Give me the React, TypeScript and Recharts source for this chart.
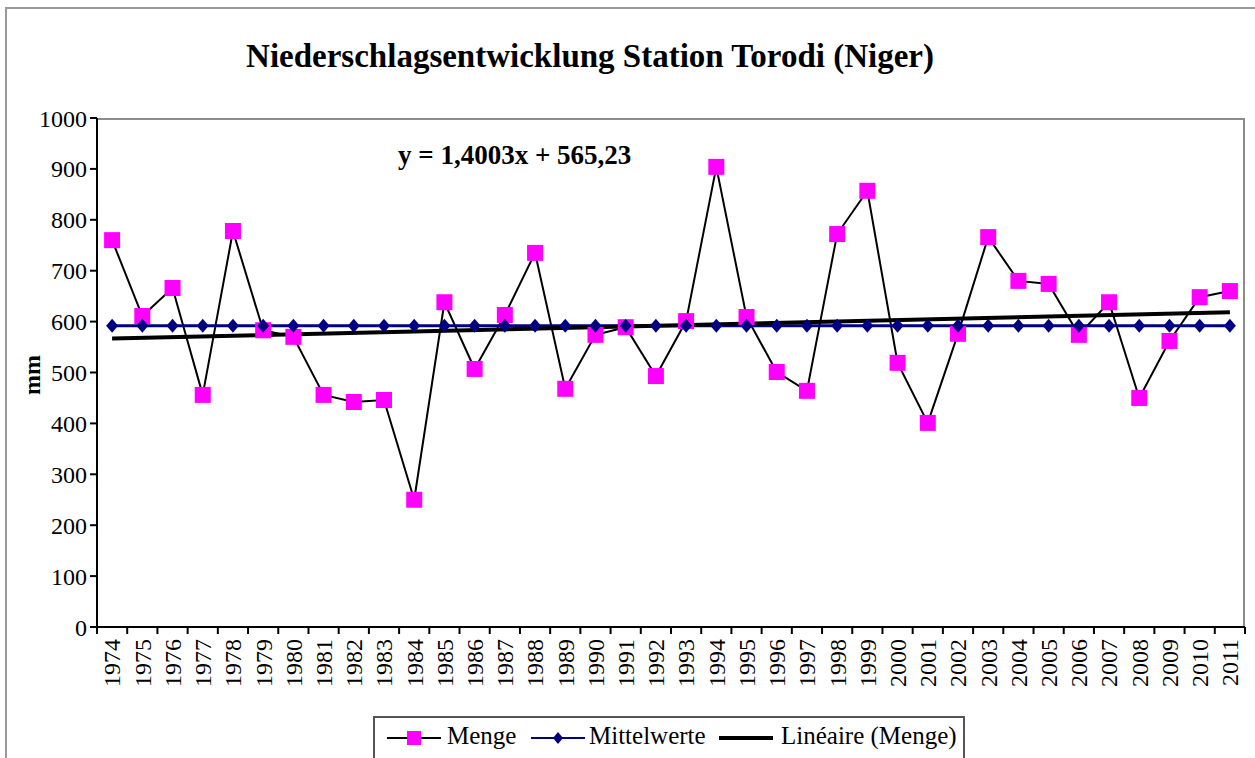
import React from "react"
import { LineChart, Line, XAxis, YAxis } from "recharts"

const years = [
    "1974", "1975", "1976", "1977", "1978", "1979", "1980", "1981", "1982", "1983",
    "1984", "1985", "1986", "1987", "1988", "1989", "1990", "1991", "1992", "1993",
    "1994", "1995", "1996", "1997", "1998", "1999", "2000", "2001", "2002", "2003",
    "2004", "2005", "2006", "2007", "2008", "2009", "2010", "2011",
]

// Niederschlag in mm
const menge = [
    760, 611, 666, 456, 778, 583, 570, 456, 442, 446,
    250, 638, 507, 613, 735, 468, 574, 589, 493, 601,
    904, 609, 501, 464, 772, 857, 519, 401, 576, 766,
    680, 674, 574, 638, 450, 562, 648, 660,
]

const mittelwerte = [
    592, 592, 592, 592, 592, 592, 592, 592, 592, 592,
    592, 592, 592, 592, 592, 592, 592, 592, 592, 592,
    592, 592, 592, 592, 592, 592, 592, 592, 592, 592,
    592, 592, 592, 592, 592, 592, 592, 592,
]

// trend line end points (y = 1,4003x + 565,23 at x = 1 and x = 38)
const trendStart = 566.6
const trendEnd = 618.4

const yTicks = [0, 100, 200, 300, 400, 500, 600, 700, 800, 900, 1000]

const data = years.map((year, i) => ({
    year,
    menge: menge[i],
    mittel: mittelwerte[i],
    trend: i === 0 ? trendStart : i === years.length - 1 ? trendEnd : null,
}))

const FONT = '"Liberation Serif", "Times New Roman", serif'
const PLOT_LEFT = 97
const PLOT_RIGHT = 1245
const PLOT_TOP = 118
const PLOT_BOTTOM = 627
const BAND = (PLOT_RIGHT - PLOT_LEFT) / years.length

function SquareDot(props: any) {
    const { cx, cy, index } = props
    if (cx == null || cy == null) return <g key={`sq-${index}`} />
    return <rect key={`sq-${index}`} x={cx - 8} y={cy - 8} width={16} height={16} fill="#ff00ff" />
}

function DiamondDot(props: any) {
    const { cx, cy, index } = props
    if (cx == null || cy == null) return <g key={`dm-${index}`} />
    return (
        <polygon
            key={`dm-${index}`}
            points={`${cx},${cy - 7} ${cx + 6},${cy} ${cx},${cy + 7} ${cx - 6},${cy}`}
            fill="#000080"
        />
    )
}

function YearTick(props: any) {
    const { x, y, payload, index } = props
    const last = index === years.length - 1
    return (
        <g>
            <line x1={x - BAND / 2} y1={y} x2={x - BAND / 2} y2={y + 7} stroke="#000" strokeWidth={2} />
            {last && <line x1={x + BAND / 2} y1={y} x2={x + BAND / 2} y2={y + 7} stroke="#000" strokeWidth={2} />}
            <text
                x={x}
                y={y + 12}
                transform={`rotate(-90, ${x}, ${y + 12})`}
                textAnchor="end"
                dy="0.35em"
                fontSize={24}
                fontFamily={FONT}
                fill="#000"
            >
                {payload.value}
            </text>
        </g>
    )
}

function LegendIcon({ kind, left }: { kind: string; left: number }) {
    return (
        <svg width={56} height={20} style={{ position: "absolute", left, top: 10 }}>
            {kind === "menge" && (
                <>
                    <line x1={1} y1={10} x2={55} y2={10} stroke="#000" strokeWidth={2} />
                    <rect x={21} y={3} width={14} height={14} fill="#ff00ff" />
                </>
            )}
            {kind === "mittel" && (
                <>
                    <line x1={1} y1={10} x2={55} y2={10} stroke="#000080" strokeWidth={2} />
                    <polygon points="28,4 33,10 28,16 23,10" fill="#000080" />
                </>
            )}
            {kind === "trend" && <line x1={1} y1={10} x2={55} y2={10} stroke="#000" strokeWidth={4} />}
        </svg>
    )
}

export default function App() {
    return (
        <div
            style={{
                position: "absolute",
                left: 0,
                top: 0,
                width: 1255,
                height: 758,
                overflow: "hidden",
                background: "#fff",
                fontFamily: FONT,
            }}
        >
            <div
                style={{
                    position: "absolute",
                    left: 5,
                    top: 7,
                    width: 1280,
                    height: 800,
                    border: "2px solid #9a9a9a",
                }}
            />
            <div
                style={{
                    position: "absolute",
                    left: PLOT_LEFT,
                    top: PLOT_TOP,
                    width: PLOT_RIGHT - PLOT_LEFT,
                    height: PLOT_BOTTOM - PLOT_TOP,
                    borderTop: "2px solid #8c8c8c",
                    borderRight: "2px solid #8c8c8c",
                    boxSizing: "border-box",
                }}
            />
            <div
                style={{
                    position: "absolute",
                    left: 0,
                    width: 1180,
                    top: 38,
                    textAlign: "center",
                    fontSize: 33,
                    fontWeight: "bold",
                    whiteSpace: "nowrap",
                }}
            >
                Niederschlagsentwicklung Station Torodi (Niger)
            </div>
            <div style={{ position: "absolute", left: 398, top: 140, fontSize: 27, fontWeight: "bold" }}>
                y = 1,4003x + 565,23
            </div>
            <div
                style={{
                    position: "absolute",
                    left: 32,
                    top: 375,
                    fontSize: 24,
                    fontWeight: "bold",
                    transform: "translate(-50%, -50%) rotate(-90deg)",
                    transformOrigin: "center",
                    whiteSpace: "nowrap",
                    lineHeight: 1,
                }}
            >
                mm
            </div>
            <div style={{ position: "absolute", left: 0, top: 0 }}>
                <LineChart
                    width={1255}
                    height={758}
                    data={data}
                    margin={{ top: PLOT_TOP, right: 1255 - PLOT_RIGHT, left: 0, bottom: 0 }}
                >
                    <XAxis
                        dataKey="year"
                        height={758 - PLOT_BOTTOM}
                        padding={{ left: BAND / 2, right: BAND / 2 }}
                        interval={0}
                        tickLine={false}
                        tickSize={0}
                        tickMargin={0}
                        axisLine={{ stroke: "#000", strokeWidth: 2 }}
                        tick={<YearTick />}
                    />
                    <YAxis
                        width={PLOT_LEFT}
                        domain={[0, 1000]}
                        ticks={yTicks}
                        interval={0}
                        tickSize={7}
                        tickMargin={3}
                        axisLine={{ stroke: "#000", strokeWidth: 2 }}
                        tickLine={{ stroke: "#000", strokeWidth: 2 }}
                        tick={{ fill: "#000", fontSize: 24, fontFamily: FONT }}
                    />
                    <Line
                        dataKey="menge"
                        name="Menge"
                        stroke="#000"
                        strokeWidth={2}
                        dot={<SquareDot />}
                        isAnimationActive={false}
                    />
                    <Line
                        dataKey="mittel"
                        name="Mittelwerte"
                        stroke="#000080"
                        strokeWidth={3}
                        dot={<DiamondDot />}
                        isAnimationActive={false}
                    />
                    <Line
                        dataKey="trend"
                        name="Linéaire (Menge)"
                        stroke="#000"
                        strokeWidth={4}
                        dot={false}
                        connectNulls
                        isAnimationActive={false}
                    />
                </LineChart>
            </div>
            <div
                style={{
                    position: "absolute",
                    left: 373,
                    top: 716,
                    width: 592,
                    height: 70,
                    border: "2px solid #555",
                    boxSizing: "border-box",
                    fontSize: 25,
                }}
            >
                <LegendIcon kind="menge" left={11} />
                <span style={{ position: "absolute", left: 72, top: 4 }}>Menge</span>
                <LegendIcon kind="mittel" left={155} />
                <span style={{ position: "absolute", left: 214, top: 4 }}>Mittelwerte</span>
                <LegendIcon kind="trend" left={343} />
                <span style={{ position: "absolute", left: 406, top: 4 }}>Linéaire (Menge)</span>
            </div>
        </div>
    )
}
